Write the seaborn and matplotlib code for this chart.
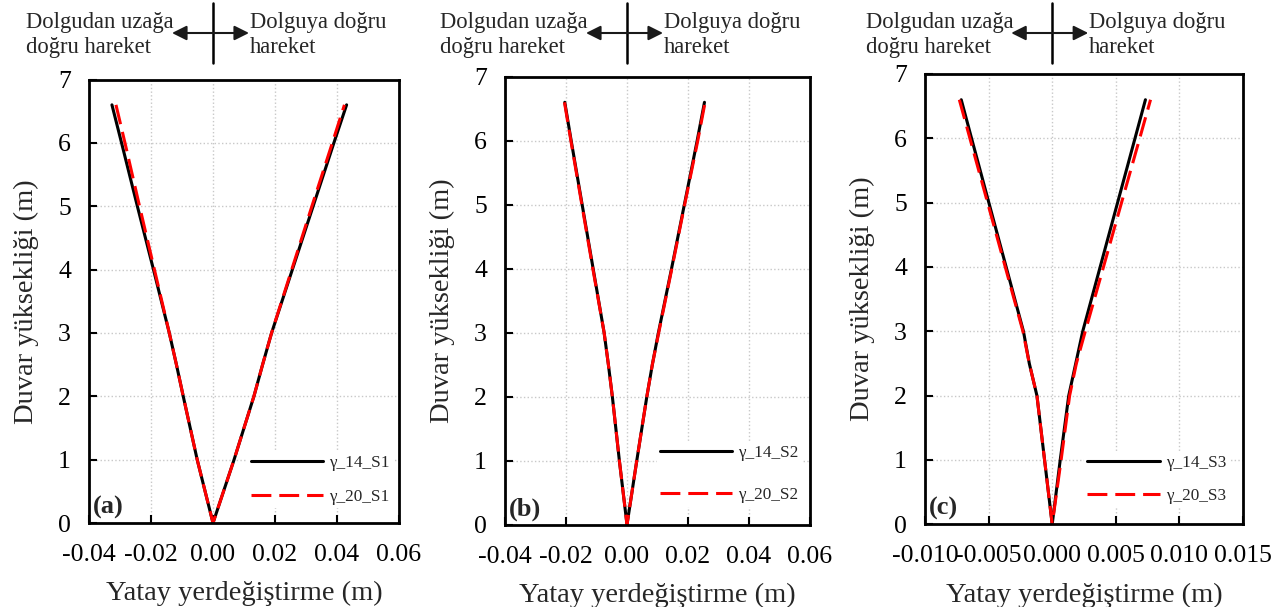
import matplotlib
matplotlib.use("Agg")
import matplotlib.pyplot as plt
import seaborn as sns
import pandas as pd
from matplotlib import transforms

# ---------------- data ----------------
heights = [6.6, 6, 5, 4, 3, 2.5, 2, 1, 0, 1, 2, 2.5, 3, 4, 5, 6, 6.6]

a_g14 = [-0.0326, -0.0295, -0.0244, -0.0192, -0.0141, -0.0118, -0.0096, -0.0051, 0.0,
         0.0068, 0.0132, 0.0160, 0.0189, 0.0256, 0.0323, 0.0390, 0.0431]
a_g20 = [-0.0313, -0.0284, -0.0237, -0.0189, -0.0141, -0.0118, -0.0096, -0.0051, 0.0,
         0.0068, 0.0132, 0.0160, 0.0189, 0.0254, 0.0319, 0.0385, 0.0424]
b_g14 = [-0.0204, -0.0183, -0.0147, -0.0111, -0.0075, -0.0061, -0.0048, -0.0025, 0.0,
         0.0032, 0.0065, 0.0083, 0.0103, 0.0146, 0.0188, 0.0230, 0.0254]
b_g20 = [-0.0205, -0.0184, -0.0148, -0.0112, -0.0075, -0.0061, -0.0048, -0.0025, 0.0,
         0.0032, 0.0065, 0.0083, 0.0104, 0.0147, 0.0189, 0.0232, 0.0256]
c_g14 = [-0.00715, -0.00634, -0.00498, -0.00362, -0.00226, -0.0018, -0.0012, -0.0006, 0.0,
         0.00063, 0.0013, 0.00185, 0.0024, 0.00377, 0.00514, 0.00651, 0.00733]
c_g20 = [-0.0073, -0.00647, -0.00508, -0.00369, -0.0023, -0.0018, -0.0012, -0.0006, 0.0,
         0.0007, 0.00137, 0.0019, 0.0026, 0.00403, 0.00545, 0.00688, 0.00773]

labels_a = ["γ_14_S1", "γ_20_S1"]
labels_b = ["γ_14_S2", "γ_20_S2"]
labels_c = ["γ_14_S3", "γ_20_S3"]

xlims = [(-0.04, 0.06), (-0.04, 0.06), (-0.010, 0.015)]
xticks_list = [[-0.04, -0.02, 0.00, 0.02, 0.04, 0.06],
               [-0.04, -0.02, 0.00, 0.02, 0.04, 0.06],
               [-0.010, -0.005, 0.000, 0.005, 0.010, 0.015]]
xfmt = ["{:.2f}", "{:.2f}", "{:.3f}"]
yticks = [0, 1, 2, 3, 4, 5, 6, 7]
panel_tags = ["a", "b", "c"]
xlabel = "Yatay yerdeğiştirme (m)"
ylabel = "Duvar yüksekliği (m)"
left_text = "Dolgudan uzağa\ndoğru hareket"
right_text = "Dolguya doğru\nhareket"

# ---------------- style ----------------
sns.set_style("white")
plt.rcParams["font.family"] = ["Liberation Serif", "DejaVu Serif"]
plt.rcParams["axes.unicode_minus"] = False

fig = plt.figure(figsize=(12.83, 6.07), dpi=100)
W, H = 1283, 607
boxes = [(89, 79.5, 399, 523), (505, 76.7, 810, 524.7), (925, 74, 1243, 524.3)]
leg_pos = [(0.51, 0.097), (0.497, 0.113), (0.50, 0.10)]
leg_spacing = [1.0, 1.55, 1.0]

panels = [(a_g14, a_g20, labels_a), (b_g14, b_g20, labels_b), (c_g14, c_g20, labels_c)]

for i, ((s14, s20, labs), (l, t, r, b)) in enumerate(zip(panels, boxes)):
    ax = fig.add_axes([l / W, 1 - b / H, (r - l) / W, (b - t) / H])
    df = pd.DataFrame({"x": s14 + s20, "y": heights + heights,
                       "series": [labs[0]] * len(s14) + [labs[1]] * len(s20)})
    sns.lineplot(data=df[df.series == labs[0]], x="x", y="y", sort=False, estimator=None,
                 color="black", linewidth=2.2, label=labs[0], ax=ax)
    sns.lineplot(data=df[df.series == labs[1]], x="x", y="y", sort=False, estimator=None,
                 color="#ff0000", linewidth=2.2, linestyle=(0, (6.5, 2.6)), label=labs[1], ax=ax)

    ax.set_xlim(*xlims[i])
    ax.set_ylim(0, 7)
    ax.set_xticks(xticks_list[i])
    ax.set_xticklabels([xfmt[i].format(v) for v in xticks_list[i]])
    ax.set_yticks(yticks)
    ax.set_yticklabels([str(v) for v in yticks])
    ax.tick_params(axis="both", direction="in", length=6, width=1.5, labelsize=18.5,
                   left=True, bottom=True, colors="black")
    ax.tick_params(axis="y", pad=13)
    ax.tick_params(axis="x", pad=15)
    ax.grid(True, color="#c8c8c8", linestyle=":", linewidth=1.0)
    ax.set_axisbelow(True)
    for sp in ax.spines.values():
        sp.set_color("black")
        sp.set_linewidth(2.0)
    ax.set_xlabel(xlabel, fontsize=20.5, labelpad=11)
    ax.set_ylabel(ylabel, fontsize=20.5, labelpad=14)

    ax.legend(loc="center left", bbox_to_anchor=leg_pos[i], fontsize=12.4,
              handlelength=4.2, handletextpad=0.35, labelspacing=leg_spacing[i],
              borderpad=0.2, borderaxespad=0, frameon=True, fancybox=False,
              framealpha=1, facecolor="white", edgecolor="none")

    ax.text(0.013, 0.035, "(" + panel_tags[i] + ")", transform=ax.transAxes,
            fontsize=19, fontweight="bold", ha="left", va="center")

    # top direction annotation
    tr = transforms.blended_transform_factory(ax.transData, fig.transFigure)
    ax.plot([0, 0], [1 - 3 / H, 1 - 63 / H], transform=tr, color="black",
            linewidth=1.8, clip_on=False)
    ay = 1 - 33 / H
    for dx in (-41, 36):
        ax.annotate("", xy=(0, ay), xycoords=tr, xytext=(dx, 0), textcoords="offset pixels",
                    arrowprops=dict(arrowstyle="<|-", color="#1a1a1a", lw=1.5,
                                    mutation_scale=22, shrinkA=0, shrinkB=0),
                    annotation_clip=False)
    ty = 1 - 35 / H
    ax.annotate(left_text, xy=(0, ty), xycoords=tr, xytext=(-39, 0), textcoords="offset pixels",
                ha="right", va="center", multialignment="left", fontsize=16.3,
                linespacing=1.24, annotation_clip=False)
    ax.annotate(right_text, xy=(0, ty), xycoords=tr, xytext=(37, 0), textcoords="offset pixels",
                ha="left", va="center", multialignment="left", fontsize=16.3,
                linespacing=1.24, annotation_clip=False)

fig.savefig("out.png", dpi=100)
